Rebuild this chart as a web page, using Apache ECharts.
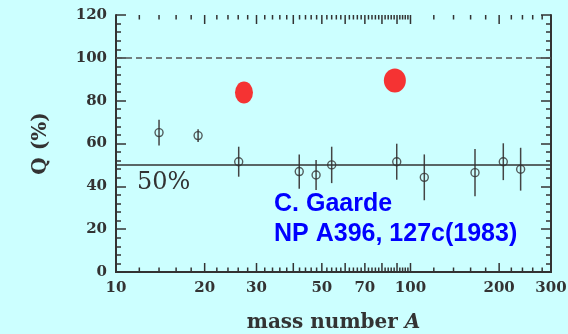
<!DOCTYPE html>
<html>
<head>
<meta charset="utf-8">
<script src="https://cdn.jsdelivr.net/npm/echarts@6/dist/echarts.min.js"></script>
<style>
html,body{margin:0;padding:0;background:#ccffff;}
#chart{width:568px;height:334px;}
</style>
</head>
<body>
<div id="chart"></div>
<script>
// Data
var massA = [14.0, 19.0, 26.1, 41.9, 47.8, 54.0, 89.8, 111.4, 165.6, 206.6, 236.6];
var qValues = [65.1, 63.7, 51.5, 46.9, 45.3, 50.0, 51.5, 44.2, 46.4, 51.5, 48.0];
var qErrors = [6.0, 3.0, 7.0, 8.0, 7.0, 8.5, 8.4, 10.7, 11.0, 8.6, 10.0];
var redA = [27.2, 88.5];
var redQ = [83.8, 89.4];
var xTickLabels = [10, 20, 30, 50, 70, 100, 200, 300];
var xMajorTicks = [20, 30, 40, 50, 60, 70, 80, 90, 100, 200];
var refLineSolid = 50;
var refLineDashed = 100;

var xMinorTicks = [];
for (var v = 12; v < 100; v += 2) { if (v % 10 !== 0) xMinorTicks.push(v); }
for (var w = 120; w < 300; w += 20) { if (w !== 200) xMinorTicks.push(w); }

var ink = '#333';
var chart = echarts.init(document.getElementById('chart'));

function tickRender(len) {
  return function (params, api) {
    var b = api.coord([api.value(0), 0]);
    var t = api.coord([api.value(0), 120]);
    var st = { stroke: ink, lineWidth: 1.5 };
    return {
      type: 'group',
      children: [
        { type: 'line', shape: { x1: b[0], y1: b[1], x2: b[0], y2: b[1] - len }, style: st },
        { type: 'line', shape: { x1: t[0], y1: t[1], x2: t[0], y2: t[1] + len }, style: st }
      ]
    };
  };
}

var yTick = { show: true, inside: true, length: 10, lineStyle: { color: ink, width: 1.5 } };
var yMinor = { show: true, splitNumber: 5, length: 5, lineStyle: { color: ink, width: 1.5 } };

var option = {
  backgroundColor: '#ccffff',
  animation: false,
  grid: { left: 116, right: 17, top: 15, bottom: 62, containLabel: false, outerBoundsMode: 'none' },
  xAxis: [{
    type: 'log', logBase: 10, min: 10, max: 300,
    axisLine: { show: true, lineStyle: { color: ink, width: 2 } },
    axisTick: { show: false }, axisLabel: { show: false }, splitLine: { show: false }, minorTick: { show: false },
    name: 'mass number {i|A}', nameLocation: 'middle', nameGap: 41,
    nameTextStyle: {
      fontFamily: 'DejaVu Serif', fontWeight: 'bold', fontSize: 20, color: ink,
      rich: { i: { fontFamily: 'DejaVu Serif', fontWeight: 'bold', fontStyle: 'italic', fontSize: 20, color: ink } }
    }
  }, {
    type: 'log', logBase: 10, min: 10, max: 300, position: 'top',
    axisLine: { show: true, lineStyle: { color: ink, width: 2 } },
    axisTick: { show: false }, axisLabel: { show: false }, splitLine: { show: false }
  }],
  yAxis: [{
    type: 'value', min: 0, max: 120, interval: 20,
    axisLine: { show: true, lineStyle: { color: ink, width: 2 } },
    axisTick: yTick, minorTick: yMinor,
    axisLabel: { margin: 9, fontFamily: 'DejaVu Serif', fontWeight: 'bold', fontSize: 15, color: ink, padding: [5, 0, 0, 0] },
    splitLine: { show: false }, minorSplitLine: { show: false },
    name: 'Q (%)', nameLocation: 'middle', nameGap: 65, nameRotate: 90,
    nameTextStyle: { fontFamily: 'DejaVu Serif', fontWeight: 'bold', fontSize: 20, color: ink }
  }, {
    type: 'value', min: 0, max: 120, interval: 20, position: 'right',
    axisLine: { show: true, lineStyle: { color: ink, width: 2 } },
    axisTick: yTick, minorTick: yMinor,
    axisLabel: { show: false }, splitLine: { show: false }, minorSplitLine: { show: false }
  }],
  series: [
    {
      type: 'custom', name: 'minorTicks', clip: false,
      data: xMinorTicks.map(function (t) { return [t, 0]; }),
      renderItem: tickRender(4.5)
    },
    {
      type: 'custom', name: 'majorTicks', clip: false,
      data: xMajorTicks.map(function (t) { return [t, 0]; }),
      renderItem: tickRender(9)
    },
    {
      type: 'custom', name: 'xLabels', clip: false,
      data: xTickLabels.map(function (t) { return [t, 0]; }),
      renderItem: function (params, api) {
        var p = api.coord([api.value(0), 0]);
        return {
          type: 'text', x: p[0], y: p[1] + 9,
          style: { text: String(api.value(0)), align: 'center', verticalAlign: 'top',
            font: 'bold 15px "DejaVu Serif"', fill: ink }
        };
      }
    },
    {
      type: 'custom', name: 'errorBars',
      data: massA.map(function (a, i) { return [a, qValues[i] - qErrors[i], qValues[i] + qErrors[i]]; }),
      renderItem: function (params, api) {
        var lo = api.coord([api.value(0), api.value(1)]);
        var hi = api.coord([api.value(0), api.value(2)]);
        return { type: 'line', shape: { x1: lo[0], y1: lo[1], x2: hi[0], y2: hi[1] },
          style: { stroke: '#444', lineWidth: 1.5 } };
      }
    },
    {
      type: 'scatter', name: 'Q',
      data: massA.map(function (a, i) { return [a, qValues[i]]; }),
      symbol: 'circle', symbolSize: 8,
      itemStyle: { color: 'rgba(0,0,0,0)', borderColor: ink, borderWidth: 1.4 },
      markLine: {
        silent: true, symbol: 'none', label: { show: false },
        data: [
          { yAxis: refLineSolid, lineStyle: { type: 'solid', color: ink, width: 1.5 } },
          { yAxis: refLineDashed, lineStyle: { type: [6, 4], color: '#555', width: 1.5 } }
        ]
      }
    },
    {
      type: 'scatter', name: 'new',
      data: [
        { value: [redA[0], redQ[0]], symbolSize: [18, 22] },
        { value: [redA[1], redQ[1]], symbolSize: [22, 24] }
      ],
      symbol: 'circle',
      itemStyle: { color: '#ff0000' }
    }
  ],
  graphic: [
    { type: 'text', left: 137, top: 171, silent: true,
      style: { text: '50%', font: '24px "DejaVu Serif"', fill: ink } },
    { type: 'text', left: 274, top: 189, silent: true,
      style: { text: 'C. Gaarde\nNP A396, 127c(1983)', font: 'bold 25px "Liberation Sans"', fill: '#0000ff', lineHeight: 30 } }
  ]
};
chart.setOption(option);
</script>
</body>
</html>
